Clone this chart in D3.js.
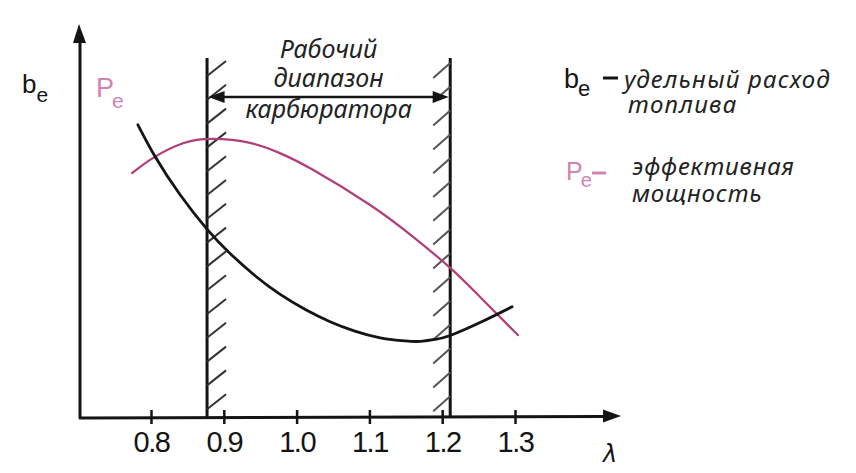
<!DOCTYPE html>
<html><head><meta charset="utf-8">
<script src="https://cdn.jsdelivr.net/npm/d3@7"></script>
<style>
html,body{margin:0;padding:0;background:#fff;}
svg{display:block;}
</style></head>
<body>
<svg id="c" width="856" height="473"></svg>
<script>
// ---- data ----
const xTicks = [0.8, 0.9, 1.0, 1.1, 1.2, 1.3];
const xTickLabels = ["0.8", "0.9", "1.0", "1.1", "1.2", "1.3"];
const rangeBounds = [0.877, 1.211];  // рабочий диапазон карбюратора
// b_e – удельный расход топлива (relative units)
const beLambda = [0.782, 0.806, 0.840, 0.878, 0.909, 0.943, 0.977, 1.012, 1.046, 1.080, 1.115, 1.149, 1.170, 1.190, 1.211, 1.252, 1.296];
const beValue  = [0.746, 0.664, 0.568, 0.478, 0.418, 0.362, 0.315, 0.276, 0.245, 0.221, 0.204, 0.196, 0.195, 0.200, 0.210, 0.243, 0.283];
// P_e – эффективная мощность (relative units)
const peLambda = [0.774, 0.803, 0.844, 0.885, 0.936, 0.977, 1.023, 1.101, 1.160, 1.211, 1.252, 1.304];
const peValue  = [0.623, 0.662, 0.699, 0.710, 0.700, 0.674, 0.631, 0.542, 0.461, 0.382, 0.308, 0.211];
const annotation = ["Рабочий", "диапазон", "карбюратора"];
const legendBe = ["удельный расход", "топлива"];
const legendPe = ["эффективная", "мощность"];

// ---- layout ----
const svg = d3.select("#c");
const x = d3.scaleLinear().domain([0.8, 1.3]).range([151, 515]);
const y = d3.scaleLinear().domain([0, 1]).range([418, 25]);
const axisX0 = 80, axisY0 = 418;
const ink = "#141414";
const curvePink = "#b23d78";
const textPink = "#d283b0";

svg.append("rect").attr("width", 856).attr("height", 473).attr("fill", "#fff");

// axes lines
svg.append("path")
  .attr("d", `M${axisX0},38 L${axisX0},${axisY0} L606,${axisY0 - 1.5}`)
  .attr("fill", "none").attr("stroke", ink).attr("stroke-width", 3)
  .attr("stroke-linejoin", "round");
svg.append("path").attr("d", `M${axisX0 - 1},24 L${axisX0 - 7},43 L${axisX0 + 6},43 Z`).attr("fill", ink);
svg.append("path").attr("d", `M621,416 L603,409.5 L603,422.5 Z`).attr("fill", ink);

// x ticks with d3 axis
const xAxis = d3.axisBottom(x).tickValues(xTicks)
  .tickFormat((d, i) => xTickLabels[i]).tickSizeOuter(0).tickSizeInner(7);
const gx = svg.append("g").attr("transform", `translate(0,${axisY0 - 1})`).call(xAxis);
gx.select(".domain").remove();
gx.selectAll(".tick line").attr("y1", -7).attr("y2", 7).attr("stroke", ink).attr("stroke-width", 2.5);
gx.selectAll(".tick text")
  .attr("y", 35).attr("dy", 0)
  .attr("fill", ink)
  .style("font-family", "'Liberation Sans', Arial, sans-serif")
  .style("font-size", "29px")
  .style("letter-spacing", "-1.5px");

// λ label
svg.append("text").attr("x", 603).attr("y", 462)
  .style("font-family", "'DejaVu Sans', sans-serif").style("font-size", "24px").style("font-style", "italic")
  .attr("fill", ink).text("λ");

// boundaries with hatching
rangeBounds.forEach((b, k) => {
  const bx = x(b);
  svg.append("line").attr("x1", bx).attr("x2", bx).attr("y1", 58).attr("y2", axisY0)
    .attr("stroke", ink).attr("stroke-width", 3);
  const hs = d3.range(k === 0 ? 76 : 78, 412, 23.8);
  svg.append("g").selectAll("line").data(hs).join("line")
    .attr("x1", d => k === 0 ? bx : bx - 17)
    .attr("y1", d => d)
    .attr("x2", d => k === 0 ? bx + 19 : bx)
    .attr("y2", d => d - 15)
    .attr("stroke", k === 0 ? "#333" : "#555").attr("stroke-width", 2);
});

// double arrow
const ax1 = x(rangeBounds[0]) + 1.5, ax2 = x(rangeBounds[1]) - 1.5, ay = 97;
svg.append("line").attr("x1", ax1 + 12).attr("x2", ax2 - 12).attr("y1", ay).attr("y2", ay)
  .attr("stroke", ink).attr("stroke-width", 2.5);
svg.append("path").attr("d", `M${ax1},${ay} L${ax1 + 16},${ay - 6} L${ax1 + 16},${ay + 6} Z`).attr("fill", ink);
svg.append("path").attr("d", `M${ax2},${ay} L${ax2 - 16},${ay - 6} L${ax2 - 16},${ay + 6} Z`).attr("fill", ink);

// annotation text
const itFont = "'Noto Sans', 'Open Sans', sans-serif";
const annY = [58, 87, 118];
annotation.forEach((t, i) => {
  svg.append("text").attr("x", (x(rangeBounds[0]) + x(rangeBounds[1])) / 2).attr("y", annY[i])
    .attr("text-anchor", "middle")
    .style("font-family", itFont).style("font-style", "italic").style("font-size", "25px")
    .attr("fill", "#222").text(t);
});

// curves
const line = d3.line().x(d => x(d[0])).y(d => y(d[1])).curve(d3.curveNatural);
svg.append("path").datum(d3.zip(peLambda, peValue)).attr("d", line)
  .attr("fill", "none").attr("stroke", curvePink).attr("stroke-width", 2.2).attr("stroke-linecap", "round");
svg.append("path").datum(d3.zip(beLambda, beValue)).attr("d", line)
  .attr("fill", "none").attr("stroke", ink).attr("stroke-width", 2.8).attr("stroke-linecap", "round");

// axis labels
const sans = "'Liberation Sans', Arial, sans-serif";
function sub(xp, yp, main, s, col, f1, f2, dx, dy) {
  const t = svg.append("text").attr("x", xp).attr("y", yp).attr("fill", col).style("font-family", sans);
  t.append("tspan").style("font-size", f1 + "px").text(main);
  t.append("tspan").attr("dx", dx).attr("dy", dy).style("font-size", f2 + "px").text(s);
}
sub(22, 93, "b", "e", ink, 26, 21, 0, 9);
sub(96, 97, "P", "e", textPink, 27, 21, -2, 11);

// legend
sub(564, 88, "b", "e", ink, 27, 22, -1, 8);
svg.append("line").attr("x1", 603).attr("x2", 618).attr("y1", 78).attr("y2", 78).attr("stroke", ink).attr("stroke-width", 3);
legendBe.forEach((t, i) => {
  svg.append("text").attr("x", i === 0 ? 624 : 628).attr("y", i === 0 ? 88 : 113)
    .style("font-family", itFont).style("font-style", "italic").style("font-size", "24px")
    .style("letter-spacing", "1.2px")
    .attr("fill", "#222").text(t);
});
sub(566, 180, "P", "e", textPink, 25, 20, -2, 7);
svg.append("line").attr("x1", 592).attr("x2", 606).attr("y1", 173).attr("y2", 173).attr("stroke", textPink).attr("stroke-width", 3);
legendPe.forEach((t, i) => {
  svg.append("text").attr("x", 632).attr("y", i === 0 ? 175 : 202)
    .style("font-family", itFont).style("font-style", "italic").style("font-size", "24px")
    .style("letter-spacing", "0.8px")
    .attr("fill", "#222").text(t);
});
</script>
</body></html>
